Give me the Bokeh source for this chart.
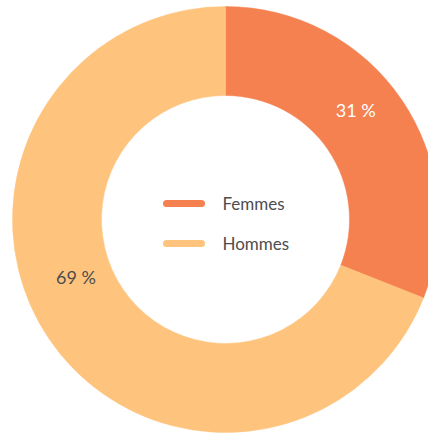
import math
from bokeh.plotting import figure
from bokeh.models import Range1d, ColumnDataSource
from bokeh.core.properties import value
from bokeh.embed import file_html
from bokeh.resources import INLINE

categories = ["Femmes", "Hommes"]
shares = [31, 69]
colors = ["#F58151", "#FEC47E"]
label_colors = ["#FFFFFF", "#4D4D4D"]

W, H = 428, 434
CX, CY = 225, H - 219
R_OUT, R_IN = 213, 124
FONT = "Lato"

total = sum(shares)
starts, ends, mids = [], [], []
a = math.pi / 2
for v in shares:
    span = 2 * math.pi * v / total
    starts.append(a)
    ends.append(a - span)
    mids.append(a - span / 2)
    a -= span

p = figure(width=W, height=H, output_backend="svg", toolbar_location=None,
           x_range=Range1d(0, W), y_range=Range1d(0, H), min_border=0)
p.axis.visible = False
p.grid.visible = False
p.outline_line_color = None
p.background_fill_color = "white"
p.border_fill_color = "white"

src = ColumnDataSource(dict(start=starts, end=ends, color=colors))
p.annular_wedge(x=CX, y=CY, inner_radius=R_IN, outer_radius=R_OUT,
                start_angle="start", end_angle="end", direction="clock",
                fill_color="color", line_color="color", line_width=0.5, source=src)

# slice labels
label_offsets = [math.radians(5.8), math.radians(-13.3)]
label_r = [170, 160]
lx = [CX + label_r[i] * math.cos(mids[i] + label_offsets[i]) for i in range(len(shares))]
ly = [CY + label_r[i] * math.sin(mids[i] + label_offsets[i]) for i in range(len(shares))]
p.text(x=lx, y=ly, text=[f"{v} %" for v in shares], text_color=label_colors,
       text_align="center", text_baseline="middle", text_font=value(FONT),
       text_font_size="18px")

# legend
leg_y = [H - 203, H - 243]
for i, c in enumerate(categories):
    p.segment(x0=166, y0=leg_y[i], x1=201, y1=leg_y[i], line_color=colors[i],
              line_width=7, line_cap="round")
p.text(x=[222] * 2, y=leg_y, text=categories, text_color="#4D4D4D",
       text_align="left", text_baseline="middle", text_font=value(FONT),
       text_font_size="17px")

open("out.html", "w").write(file_html(p, INLINE))
